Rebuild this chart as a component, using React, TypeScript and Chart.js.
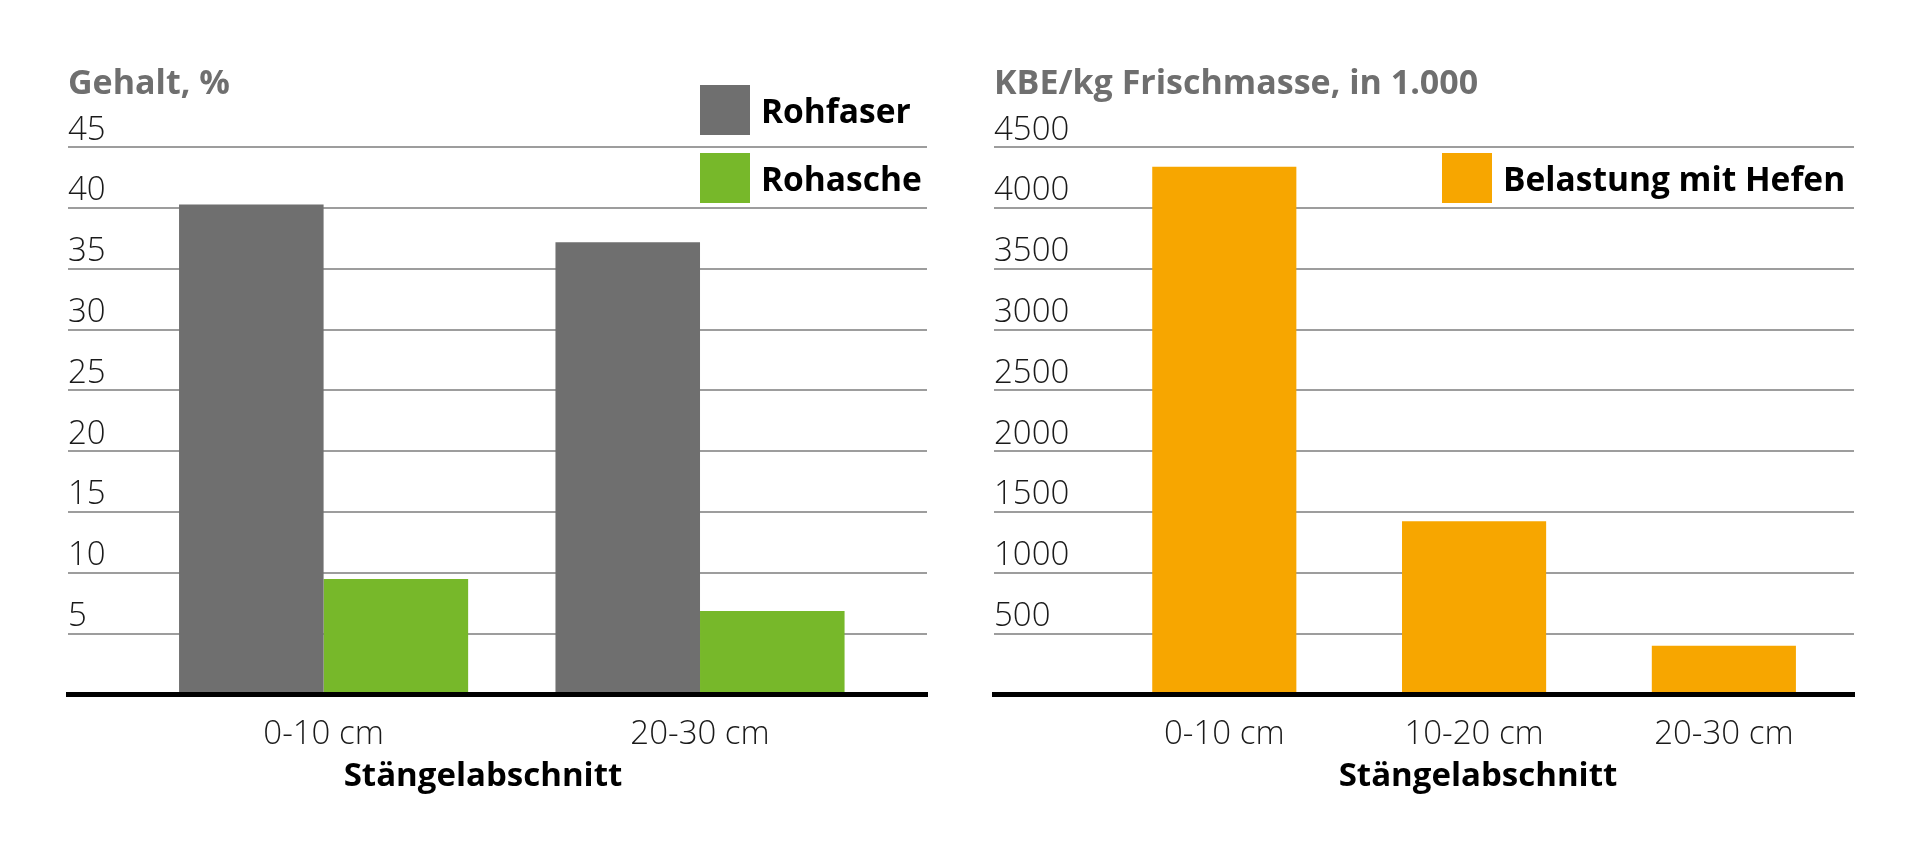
import { useEffect, useRef } from "react"
import { Chart, registerables, type ChartConfiguration } from "chart.js"

Chart.register(...registerables)

// --- data: left chart (Gehalt, %)
const gehaltCategories = ["0-10 cm", "20-30 cm"]
const rohfaser = [40.3, 37.2]
const rohasche = [9.5, 6.85]

// --- data: right chart (KBE/kg Frischmasse, in 1.000)
const hefenCategories = ["0-10 cm", "10-20 cm", "20-30 cm"]
const hefen = [4340, 1425, 400]

const xTitle = "Stängelabschnitt"

const GRAY = "#6f6f6f"
const GREEN = "#77b82a"
const ORANGE = "#f7a600"
const FONT = "'Open Sans', 'Noto Sans', sans-serif"

type ChartSetup = {
  title: string
  categories: string[]
  datasets: { label: string; values: number[]; color: string }[]
  yMax: number
  yStep: number
  xMin: number
  xMax: number
  categoryPercentage: number
  padLeft: number
  padRight: number
}

function buildConfig(s: ChartSetup): ChartConfiguration {
  return {
    type: "bar",
    data: {
      datasets: s.datasets.map((d) => ({
        label: d.label,
        data: d.values.map((v, i) => ({ x: i, y: v })),
        backgroundColor: d.color,
        borderWidth: 0,
        categoryPercentage: s.categoryPercentage,
        barPercentage: 1,
      })),
    },
    options: {
      responsive: true,
      maintainAspectRatio: false,
      animation: false,
      layout: { padding: { top: 0, left: s.padLeft, right: s.padRight, bottom: 67 } },
      plugins: {
        legend: { display: false },
        tooltip: { enabled: false },
        title: {
          display: true,
          text: s.title,
          align: "start",
          color: "#6f6f6f",
          font: { family: FONT, size: 34, weight: "bold" },
          padding: { top: 64, bottom: 42.5 },
        },
      },
      scales: {
        x: {
          type: "linear",
          offset: false,
          min: s.xMin,
          max: s.xMax,
          afterBuildTicks: (scale) => {
            scale.ticks = s.categories.map((_, i) => ({ value: i }))
          },
          ticks: {
            autoSkip: false,
            maxRotation: 0,
            padding: 20,
            color: "#1a1a1a",
            font: { family: FONT, size: 33, weight: "300" },
            callback: (v) => s.categories[Number(v)] ?? "",
          },
          grid: { display: false, drawTicks: false },
          border: { display: true, color: "#000000", width: 5, z: 1 },
        },
        y: {
          min: 0,
          max: s.yMax,
          ticks: {
            stepSize: s.yStep,
            mirror: true,
            padding: 0,
            labelOffset: -17,
            color: "#1a1a1a",
            font: { family: FONT, size: 33, weight: "300" },
            callback: (v) => (Number(v) === 0 ? "" : String(v)),
          },
          grid: { color: "#9d9d9d", lineWidth: 2, drawTicks: false },
          border: { display: false },
        },
      },
    },
  }
}

const gehaltConfig = buildConfig({
  title: "Gehalt, %",
  categories: gehaltCategories,
  datasets: [
    { label: "Rohfaser", values: rohfaser, color: GRAY },
    { label: "Rohasche", values: rohasche, color: GREEN },
  ],
  yMax: 45,
  yStep: 5,
  xMin: -0.679,
  xMax: 1.603,
  categoryPercentage: 0.768,
  padLeft: 68,
  padRight: 33,
})

const hefenConfig = buildConfig({
  title: "KBE/kg Frischmasse, in 1.000",
  categories: hefenCategories,
  datasets: [{ label: "Belastung mit Hefen", values: hefen, color: ORANGE }],
  yMax: 4500,
  yStep: 500,
  xMin: -0.922,
  xMax: 2.521,
  categoryPercentage: 0.577,
  padLeft: 34,
  padRight: 66,
})

function BarChart({ config, left }: { config: ChartConfiguration; left: number }) {
  const canvasRef = useRef<HTMLCanvasElement>(null)

  useEffect(() => {
    if (!canvasRef.current) return
    const chart = new Chart(canvasRef.current, config)
    return () => chart.destroy()
  }, [config])

  return (
    <div style={{ position: "absolute", left, top: 0, width: 960, height: 841 }}>
      <canvas ref={canvasRef} />
    </div>
  )
}

function Legend({ items, left, top }: { items: { label: string; color: string }[]; left: number; top: number }) {
  return (
    <div style={{ position: "absolute", left, top, display: "flex", flexDirection: "column", gap: 17.7 }}>
      {items.map((it) => (
        <div key={it.label} style={{ display: "flex", alignItems: "center", height: 50 }}>
          <span style={{ width: 50, height: 50, background: it.color, marginRight: 11 }} />
          <span style={{ fontFamily: FONT, fontWeight: 700, fontSize: 33.5, lineHeight: "34px", color: "#000" }}>
            {it.label}
          </span>
        </div>
      ))}
    </div>
  )
}

function AxisTitle({ center }: { center: number }) {
  return (
    <div
      style={{
        position: "absolute",
        left: center - 200,
        top: 754,
        width: 400,
        textAlign: "center",
        fontFamily: FONT,
        fontWeight: 700,
        fontSize: 33,
        lineHeight: "40px",
        color: "#000",
      }}
    >
      {xTitle}
    </div>
  )
}

export default function App() {
  return (
    <div style={{ position: "absolute", left: 0, top: 0, width: 1920, height: 841, background: "#fff", overflow: "hidden" }}>
      <BarChart config={gehaltConfig} left={0} />
      <BarChart config={hefenConfig} left={960} />
      <Legend
        left={700}
        top={85}
        items={[
          { label: "Rohfaser", color: GRAY },
          { label: "Rohasche", color: GREEN },
        ]}
      />
      <Legend left={1442} top={153} items={[{ label: "Belastung mit Hefen", color: ORANGE }]} />
      <AxisTitle center={483} />
      <AxisTitle center={1478} />
    </div>
  )
}
